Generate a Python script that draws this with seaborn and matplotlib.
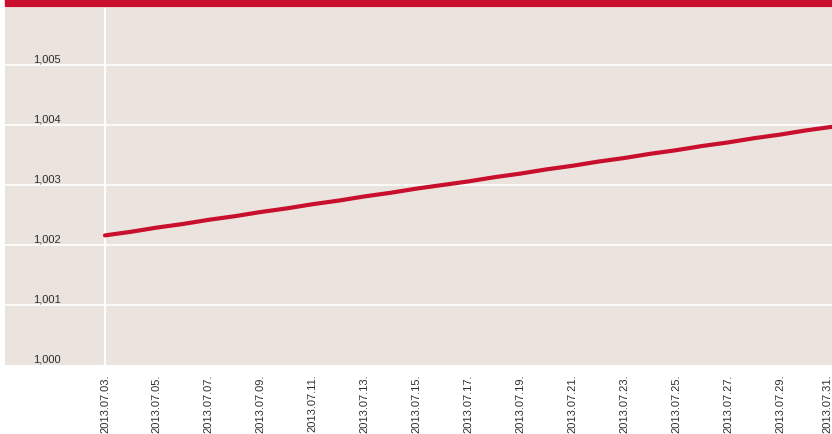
import pandas as pd
import seaborn as sns
import matplotlib.pyplot as plt
from matplotlib.patches import Rectangle

# daily index values, 2013.07.03 - 2013.07.31
dates = pd.date_range('2013-07-03', '2013-07-31', freq='D')
values = [1.00216, 1.00222, 1.00229, 1.00235, 1.00242, 1.00248, 1.00255,
          1.00261, 1.00268, 1.00274, 1.00281, 1.00287, 1.00294, 1.00300,
          1.00306, 1.00313, 1.00319, 1.00326, 1.00332, 1.00339, 1.00345,
          1.00352, 1.00358, 1.00365, 1.00371, 1.00378, 1.00384, 1.00391,
          1.00397]
y_ticks = [1.000, 1.001, 1.002, 1.003, 1.004, 1.005]
y_labels = ['1,000', '1,001', '1,002', '1,003', '1,004', '1,005']
x_tick_dates = dates[::2]

df = pd.DataFrame({'date': dates, 'value': values})

sns.set_style('white')
plt.rcParams['font.family'] = ['Liberation Sans', 'DejaVu Sans']

red = '#c8102e'
bg = '#ebe4de'
txt = '#2e2e2e'

fig = plt.figure(figsize=(8.32, 4.35), dpi=100)
ax = fig.add_axes([5 / 832, 69 / 435, 827 / 832, 357 / 435])
ax.set_facecolor(bg)

sns.lineplot(data=df, x='date', y='value', color=red, linewidth=3, ax=ax)

# grid & axis line
for t in y_ticks[1:]:
    ax.axhline(t, color='white', linewidth=1.2, zorder=1)
ax.axvline(dates[0], color='white', linewidth=1.5, zorder=1)

ax.set_ylim(1.000, 1.00595)
left = dates[0] - pd.Timedelta(days=3.85)
ax.set_xlim(left, dates[-1])

# y labels drawn inside the plot, just above gridlines
ax.set_yticks([])
trans = ax.get_yaxis_transform()
for t, lab in zip(y_ticks, y_labels):
    ax.text(0.034, t + 0.00002, lab, transform=trans, ha='left', va='bottom',
            fontsize=8, color=txt)

ax.set_xticks(x_tick_dates)
ax.set_xticklabels([d.strftime('%Y.%m.%d.') for d in x_tick_dates],
                   rotation=90, fontsize=8, color=txt)
ax.get_xticklabels()[-1].set_horizontalalignment('right')
ax.tick_params(axis='x', length=0, pad=6)
ax.set_xlabel('')
ax.set_ylabel('')
for s in ax.spines.values():
    s.set_visible(False)

# red band along the top
fig.add_artist(Rectangle((5 / 832, 428 / 435), 827 / 832, 7 / 435,
                         transform=fig.transFigure, color=red, zorder=5))

fig.savefig('out.png', dpi=100)
